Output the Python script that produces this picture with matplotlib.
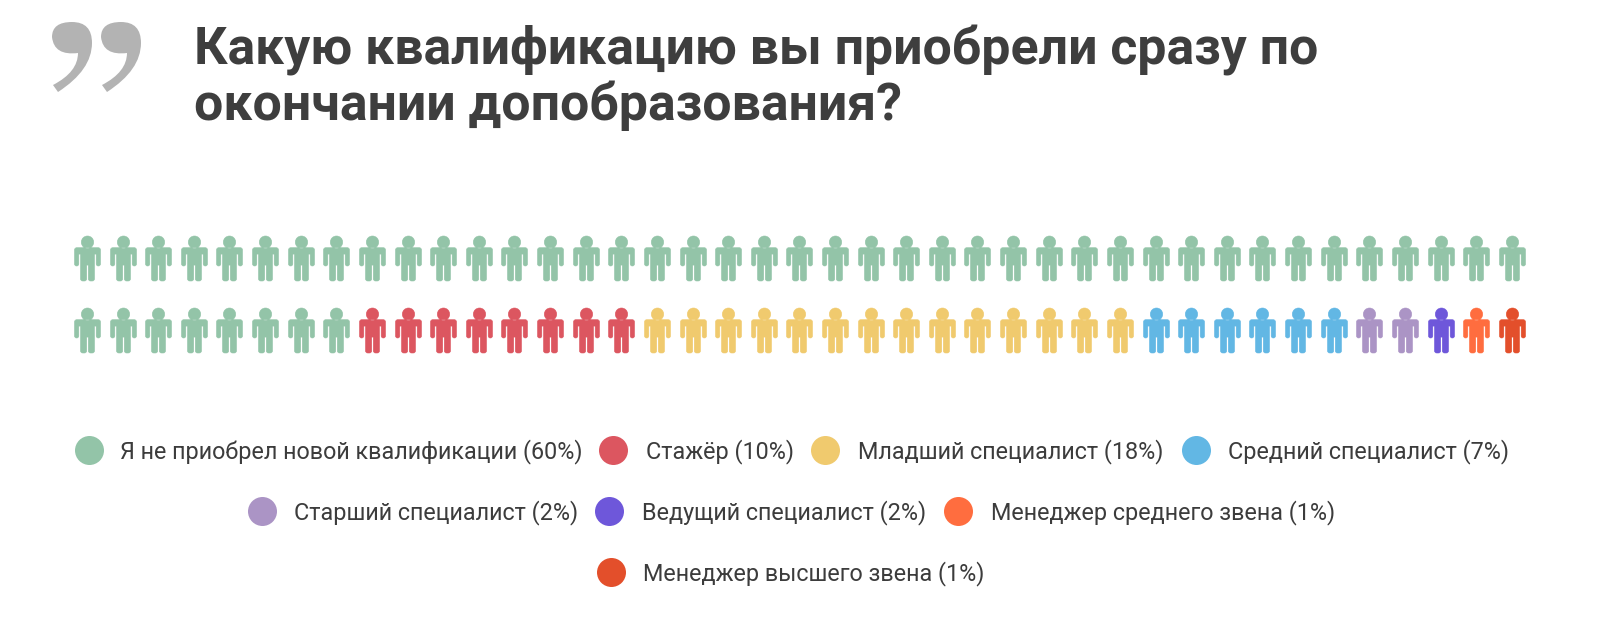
import numpy as np
import matplotlib
matplotlib.use("Agg")
import matplotlib.pyplot as plt
from matplotlib.path import Path
from matplotlib.patches import PathPatch
from matplotlib.markers import MarkerStyle

title_lines = ["Какую квалификацию вы приобрели сразу по", "окончании допобразования?"]
labels = ["Я не приобрел новой квалификации (60%)", "Стажёр (10%)", "Младший специалист (18%)",
          "Средний специалист (7%)", "Старший специалист (2%)", "Ведущий специалист (2%)",
          "Менеджер среднего звена (1%)", "Менеджер высшего звена (1%)"]
colors = ["#93c4a8", "#dc5660", "#f0ca6e", "#62b7e4", "#ab94c5", "#6e57da", "#ff6d3f", "#e34f2b"]
row1_counts = [41, 0, 0, 0, 0, 0, 0, 0]
row2_counts = [8, 8, 14, 6, 2, 1, 1, 1]
legend_rows = [[0, 1, 2, 3], [4, 5, 6], [7]]

W, H = 1600, 631
fig = plt.figure(figsize=(W/100, H/100), dpi=100)
ax = fig.add_axes([0, 0, 1, 1])
ax.set_xlim(0, W); ax.set_ylim(H, 0); ax.axis("off")

def rounded(pts, r):
    v, c = [], []
    n = len(pts)
    for i in range(n):
        p = np.array(pts[i], float); a = np.array(pts[i-1], float); b = np.array(pts[(i+1) % n], float)
        rr = min(r, np.linalg.norm(a-p)/2, np.linalg.norm(b-p)/2)
        p1 = p + (a-p)/np.linalg.norm(a-p)*rr
        p2 = p + (b-p)/np.linalg.norm(b-p)*rr
        v += [p1, p, p2]
        c += [Path.MOVETO if i == 0 else Path.LINETO, Path.CURVE3, Path.CURVE3]
    v.append(v[0]); c.append(Path.CLOSEPOLY)
    return Path(np.array(v), c)

body = [(-13, 10.8), (13, 10.8), (13, -7.5), (8.7, -7.5), (8.7, 4.5), (7, 4.5), (7, -22.5),
        (0.8, -22.5), (0.8, -6.5), (-0.8, -6.5), (-0.8, -22.5), (-7, -22.5), (-7, 4.5), (-8.7, 4.5),
        (-8.7, -7.5), (-13, -7.5)]
head = Path.circle((0, 16.3), 6.2)
person = Path.make_compound_path(head, rounded(body, 2.3))
mk = MarkerStyle(person)
size = (45 * 72 / 100) ** 2

x0, dx = 87.0, 35.62
for yc, counts in [(258.0, row1_counts), (329.5, row2_counts)]:
    idx = 0
    for cnt, col in zip(counts, colors):
        if cnt:
            xs = x0 + dx * np.arange(idx, idx + cnt)
            ax.scatter(xs, np.full(cnt, yc), marker=mk, s=size, color=col, linewidths=0.4, edgecolors=col)
        idx += cnt

legend_y = [450, 511, 572]
dot_x = {0: 89, 1: 613, 2: 825, 3: 1196, 4: 262, 5: 609, 6: 958, 7: 611}
text_x = {0: 120, 1: 646, 2: 858, 3: 1228, 4: 294, 5: 642, 6: 991, 7: 643}
for ry, row in zip(legend_y, legend_rows):
    for i in row:
        ax.scatter([dot_x[i]], [ry], s=(29*0.72)**2, color=colors[i], linewidths=0)
        ax.text(text_x[i], ry - 1.5, labels[i], fontsize=16.82, family="Roboto", color="#3c3c3c",
                va="center_baseline", ha="left")

for i, t in enumerate(title_lines):
    ax.text(194, 64 + i*56, t, fontsize=37.25, family="Roboto", fontweight="bold", color="#3e3e3e",
            va="baseline", ha="left")

comma = np.array([[52,37],[52,22],[72,22],[92,22],[92,43],[92,70],[58,92],[53,85],[78,72],[78,53],
                  [54,56],[52,37],[52,37]], float)
codes = [Path.MOVETO, Path.CURVE3, Path.CURVE3, Path.CURVE3, Path.CURVE3, Path.CURVE3, Path.CURVE3,
         Path.LINETO, Path.CURVE3, Path.CURVE3, Path.CURVE3, Path.CURVE3, Path.CLOSEPOLY]
for off in (0, 49):
    ax.add_patch(PathPatch(Path(comma + [off, 0], codes), fc="#b3b3b3", ec="none"))

fig.savefig("out.png", dpi=100, facecolor="white")
